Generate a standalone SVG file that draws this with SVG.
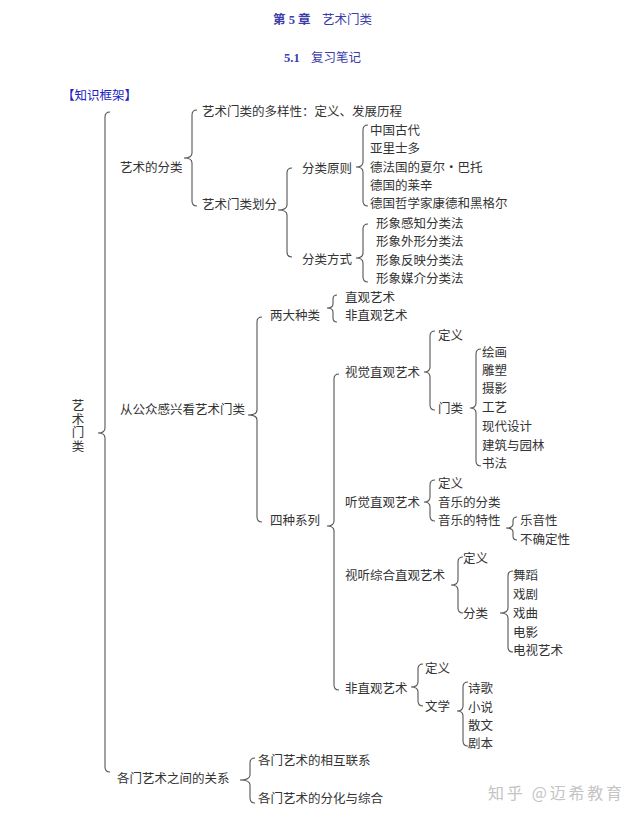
<svg xmlns="http://www.w3.org/2000/svg" width="640" height="820" viewBox="0 0 640 820">
<style>
.t{font-family:"Noto Sans CJK SC","Liberation Sans",sans-serif;font-size:12.5px;fill:#333}
.h{font-family:"Liberation Serif","Noto Sans CJK SC",serif;font-size:12.5px;font-weight:bold;fill:#3c3caa}
.k{font-family:"Liberation Serif","Noto Sans CJK SC",serif;font-size:12.5px;fill:#2222c4}
.w{font-family:"Noto Sans CJK SC",sans-serif;font-size:16px;fill:#c4c4c4}
.b{fill:none;stroke:#555;stroke-width:1.1}
</style>
<rect width="640" height="820" fill="#fff"/>
<g id="header">
<text class="h" x="273" y="24">第 5 章</text>
<text class="h" x="322" y="24" style="font-weight:normal">艺术门类</text>
<text class="h" x="284" y="62">5.1</text>
<text class="h" x="311" y="62" style="font-weight:normal">复习笔记</text>
<text class="k" x="62" y="100">【知识框架】</text>
</g>
<g id="connectors">
<path class="b" d="M110,112 Q105,112 105,117 L105,428 Q105,433 98,433 Q105,433 105,438 L105,767 Q105,772 110,772"/>
<path class="b" d="M197,110 Q192,110 192,115 L192,153 Q192,158 184,158 Q192,158 192,163 L192,201 Q192,206 197,206"/>
<path class="b" d="M292,168 Q287,168 287,173 L287,205 Q287,210 278,210 Q287,210 287,215 L287,252 Q287,257 292,257"/>
<path class="b" d="M368,125 Q363,125 363,130 L363,162 Q363,167 356,167 Q363,167 363,172 L363,201 Q363,206 368,206"/>
<path class="b" d="M368,224 Q363,224 363,229 L363,253 Q363,258 356,258 Q363,258 363,263 L363,277 Q363,282 368,282"/>
<path class="b" d="M262,317 Q257,317 257,322 L257,410 Q257,415 248,415 Q257,415 257,420 L257,517 Q257,522 262,522"/>
<path class="b" d="M337,295 Q333,295 333,299 L333,304 Q333,308 327,308 Q333,308 333,312 L333,318 Q333,322 337,322"/>
<path class="b" d="M339,374 Q334,374 334,379 L334,521 Q334,526 327,526 Q334,526 334,531 L334,685 Q334,690 339,690"/>
<path class="b" d="M435,331 Q430,331 430,336 L430,367 Q430,372 424,372 Q430,372 430,377 L430,405 Q430,410 435,410"/>
<path class="b" d="M481,349 Q476,349 476,354 L476,403 Q476,408 470,408 Q476,408 476,413 L476,461 Q476,466 481,466"/>
<path class="b" d="M435,480 Q430,480 430,485 L430,497 Q430,502 424,502 Q430,502 430,507 L430,516 Q430,521 435,521"/>
<path class="b" d="M517,517 Q513,517 513,521 L513,524 Q513,528 506,528 Q513,528 513,532 L513,536 Q513,540 517,540"/>
<path class="b" d="M463,557 Q458,557 458,562 L458,580 Q458,585 451,585 Q458,585 458,590 L458,608 Q458,613 463,613"/>
<path class="b" d="M513,571 Q508,571 508,576 L508,608 Q508,613 500,613 Q508,613 508,618 L508,647 Q508,652 513,652"/>
<path class="b" d="M423,664 Q418,664 418,669 L418,682 Q418,687 411,687 Q418,687 418,692 L418,701 Q418,706 423,706"/>
<path class="b" d="M468,682 Q463,682 463,687 L463,706 Q463,711 457,711 Q463,711 463,716 L463,741 Q463,746 468,746"/>
<path class="b" d="M255,758 Q250,758 250,763 L250,775 Q250,780 240,780 Q250,780 250,785 L250,798 Q250,803 255,803"/>
</g>
<g id="root">
<text class="t" x="78" y="399" writing-mode="vertical-rl" letter-spacing="1">艺术门类</text>
</g>
<g id="n-fenlei"><text class="t" x="120" y="171.5">艺术的分类</text></g>
<g id="n-duoyang"><text class="t" x="202" y="115.5">艺术门类的多样性：定义、发展历程</text></g>
<g id="n-huafen"><text class="t" x="202" y="208.5">艺术门类划分</text></g>
<g id="n-yuanze"><text class="t" x="302" y="172.5">分类原则</text></g>
<g id="n-fangshi"><text class="t" x="302" y="264">分类方式</text></g>
<g id="n-yuanze-items">
<text class="t" x="370" y="134.5">中国古代</text>
<text class="t" x="370" y="152.5">亚里士多</text>
<text class="t" x="370" y="171.5">德法国的夏尔・巴托</text>
<text class="t" x="370" y="189.5">德国的莱辛</text>
<text class="t" x="370" y="207.5">德国哲学家康德和黑格尔</text>
</g>
<g id="n-fangshi-items">
<text class="t" x="376" y="227.5">形象感知分类法</text>
<text class="t" x="376" y="246">形象外形分类法</text>
<text class="t" x="376" y="264.5">形象反映分类法</text>
<text class="t" x="376" y="282.5">形象媒介分类法</text>
</g>
<g id="n-gongzhong"><text class="t" x="120" y="413.5">从公众感兴看艺术门类</text></g>
<g id="n-liangda"><text class="t" x="270" y="319.5">两大种类</text></g>
<g id="n-liangda-items">
<text class="t" x="345" y="301.5">直观艺术</text>
<text class="t" x="345" y="319.5">非直观艺术</text>
</g>
<g id="n-sizhong"><text class="t" x="270" y="524.5">四种系列</text></g>
<g id="n-shijue"><text class="t" x="345" y="376.5">视觉直观艺术</text></g>
<g id="n-shijue-items">
<text class="t" x="438" y="339.5">定义</text>
<text class="t" x="438" y="412.5">门类</text>
</g>
<g id="n-menlei-items">
<text class="t" x="482" y="356.5">绘画</text>
<text class="t" x="482" y="374.5">雕塑</text>
<text class="t" x="482" y="392.5">摄影</text>
<text class="t" x="482" y="411.5">工艺</text>
<text class="t" x="482" y="430.5">现代设计</text>
<text class="t" x="482" y="449.5">建筑与园林</text>
<text class="t" x="482" y="467.5">书法</text>
</g>
<g id="n-tingjue"><text class="t" x="345" y="506.5">听觉直观艺术</text></g>
<g id="n-tingjue-items">
<text class="t" x="438" y="487.5">定义</text>
<text class="t" x="438" y="506.5">音乐的分类</text>
<text class="t" x="438" y="524.5">音乐的特性</text>
</g>
<g id="n-texing-items">
<text class="t" x="520" y="524.5">乐音性</text>
<text class="t" x="520" y="543.5">不确定性</text>
</g>
<g id="n-shiting"><text class="t" x="345" y="579.5">视听综合直观艺术</text></g>
<g id="n-shiting-items">
<text class="t" x="463" y="562.5">定义</text>
<text class="t" x="463" y="617.5">分类</text>
</g>
<g id="n-fenlei2-items">
<text class="t" x="513" y="579.5">舞蹈</text>
<text class="t" x="513" y="598.5">戏剧</text>
<text class="t" x="513" y="617.5">戏曲</text>
<text class="t" x="513" y="636.5">电影</text>
<text class="t" x="513" y="654.5">电视艺术</text>
</g>
<g id="n-feizhiguan"><text class="t" x="345" y="692.5">非直观艺术</text></g>
<g id="n-feizhiguan-items">
<text class="t" x="425" y="672.5">定义</text>
<text class="t" x="425" y="710.5">文学</text>
</g>
<g id="n-wenxue-items">
<text class="t" x="468" y="692.5">诗歌</text>
<text class="t" x="468" y="711.5">小说</text>
<text class="t" x="468" y="729.5">散文</text>
<text class="t" x="468" y="747.5">剧本</text>
</g>
<g id="n-guanxi"><text class="t" x="117" y="782.5">各门艺术之间的关系</text></g>
<g id="n-guanxi-items">
<text class="t" x="258" y="764.5">各门艺术的相互联系</text>
<text class="t" x="258" y="802.5">各门艺术的分化与综合</text>
</g>
<g id="watermark"><text class="w" x="488" y="799" textLength="134" lengthAdjust="spacing">知乎 @迈希教育</text></g>
</svg>
